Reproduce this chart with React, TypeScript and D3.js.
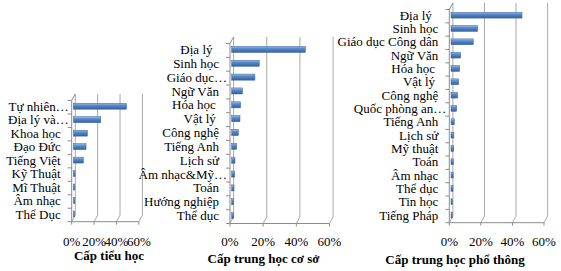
import React from "react";
import * as d3 from "d3";

// ---- data ----
const primaryCats = ["Tự nhiên…", "Địa lý và…", "Khoa học", "Đạo Đức", "Tiếng Việt", "Kỹ Thuật", "Mĩ Thuật", "Âm nhạc", "Thể Dục"];
const primaryVals = [47.5, 24.5, 12.5, 11.3, 8.9, 1.5, 1.3, 1.3, 1.2];

const lowerSecCats = ["Địa lý\u00a0\u00a0", "Sinh học", "Giáo dục…", "Ngữ Văn", "Hóa học\u00a0", "Vật lý\u00a0", "Công nghệ", "Tiếng Anh", "Lịch sử", "Âm nhạc&Mỹ…", "Toán", "Hướng nghiệp", "Thể dục"];
const lowerSecVals = [44.4, 16.6, 14, 6.5, 5.4, 5, 4, 3, 2, 1.8, 1.4, 1.1, 1.2];

const upperSecCats = ["Địa lý\u00a0\u00a0", "Sinh học", "Giáo dục Công dân", "Ngữ Văn", "Hóa học\u00a0", "Vật lý\u00a0", "Công nghệ", "Quốc phòng an…", "Tiếng Anh", "Lịch sử", "Mỹ thuật", "Toán", "Âm nhạc", "Thể dục", "Tin học", "Tiếng Pháp"];
const upperSecVals = [45, 16.9, 14.1, 6.1, 5.5, 4.9, 4.2, 3.6, 2.1, 1.8, 1.7, 1.5, 1.4, 1.3, 1.0, 0.8];

const tickVals = [0, 20, 40, 60];
const tickLabels = ["0%", "20%", "40%", "60%"];
const titles = ["Cấp tiểu học", "Cấp trung học cơ sở", "Cấp trung học phổ thông"];

// ---- layout ----
const panels = [
  { cats: primaryCats, vals: primaryVals, title: titles[0], x0: 71.7, x1: 138.8, top: 100.5, bottom: 221.7, titleX: 109, titleY: 260 },
  { cats: lowerSecCats, vals: lowerSecVals, title: titles[1], x0: 230, x1: 329.5, top: 43.5, bottom: 223.5, titleX: 263.5, titleY: 262.5 },
  { cats: upperSecCats, vals: upperSecVals, title: titles[2], x0: 449.3, x1: 544, top: 9.5, bottom: 222.7, titleX: 455, titleY: 263.5 },
];

const DX = 3.6;
const DY = -6.6;
const FONT = "'Liberation Serif', 'Times New Roman', serif";
const AXIS = "#8c8c8c";
const GRID = "#a8a8a8";

function Panel({ p, idx }: { p: any; idx: number }) {
  const x = d3.scaleLinear().domain([0, 60]).range([p.x0, p.x1]);
  const y = d3.scaleBand<string>().domain(p.cats).range([p.top, p.bottom]).paddingInner(0.56).paddingOuter(0.28);
  const step = y.step();
  const bandTop = (i: number) => p.top + i * step;
  const labelEdge = p.x0 - 11;
  const gid = `bg${idx}`;
  return (
    <g>
      <defs>
        <linearGradient id={gid} x1="0" y1="0" x2="0" y2="1">
          <stop offset="0%" stopColor="#9cbde6" />
          <stop offset="35%" stopColor="#5a8bca" />
          <stop offset="100%" stopColor="#355f9c" />
        </linearGradient>
      </defs>
      {/* back wall gridlines */}
      {tickVals.map((t) => (
        <line key={"g" + t} x1={x(t) + DX} x2={x(t) + DX} y1={p.top + DY} y2={p.bottom + DY} stroke={GRID} strokeWidth={1} />
      ))}
      {/* floor lines */}
      {tickVals.map((t) => (
        <line key={"f" + t} x1={x(t)} x2={x(t) + DX} y1={p.bottom} y2={p.bottom + DY} stroke={GRID} strokeWidth={1} />
      ))}
      {/* left wall top diagonal */}
      <line x1={p.x0} x2={p.x0 + DX} y1={p.top} y2={p.top + DY} stroke={AXIS} strokeWidth={1} />
      {/* vertical axis */}
      <line x1={p.x0} x2={p.x0} y1={p.top} y2={p.bottom} stroke={AXIS} strokeWidth={1} />
      {d3.range(p.cats.length + 1).map((i) => (
        <line key={"vt" + i} x1={p.x0 - 4} x2={p.x0} y1={bandTop(i)} y2={bandTop(i)} stroke={AXIS} strokeWidth={1} />
      ))}
      {/* horizontal axis */}
      <line x1={p.x0} x2={p.x1} y1={p.bottom} y2={p.bottom} stroke={AXIS} strokeWidth={1} />
      {tickVals.map((t) => (
        <line key={"ht" + t} x1={x(t)} x2={x(t)} y1={p.bottom} y2={p.bottom + 3} stroke={AXIS} strokeWidth={1} />
      ))}
      {/* bars */}
      {p.cats.map((c: string, i: number) => {
        const by = (y(c) as number) - 1;
        const bw = x(p.vals[i]) - p.x0;
        const bx = p.x0 + 1.7;
        return (
          <g key={"b" + i}>
            <rect x={bx} y={by} width={bw} height={y.bandwidth()} fill={`url(#${gid})`} stroke="#3a659f" strokeWidth={0.5} />
          </g>
        );
      })}
      {/* category labels */}
      {p.cats.map((c: string, i: number) => (
        <text key={"l" + i} x={c.endsWith("…") ? labelEdge + 8 : labelEdge} y={(y(c) as number) + y.bandwidth() / 2 - 1} dy="0.35em" textAnchor="end" fontSize={13} fontFamily={FONT} fill="#000">
          {c}
        </text>
      ))}
      {/* tick labels */}
      {tickVals.map((t, i) => (
        <text key={"tl" + t} x={x(t)} y={245.5} textAnchor="middle" fontSize={13} fontFamily={FONT} fill="#000">
          {tickLabels[i]}
        </text>
      ))}
      <text x={p.titleX} y={p.titleY} textAnchor="middle" fontSize={13} fontWeight="bold" fontFamily={FONT} fill="#000">
        {p.title}
      </text>
    </g>
  );
}

export default function App() {
  return (
    <svg width={561} height={271} style={{ position: "absolute", left: 0, top: 0, background: "#fff" }}>
      {panels.map((p, i) => (
        <Panel key={i} p={p} idx={i} />
      ))}
    </svg>
  );
}
